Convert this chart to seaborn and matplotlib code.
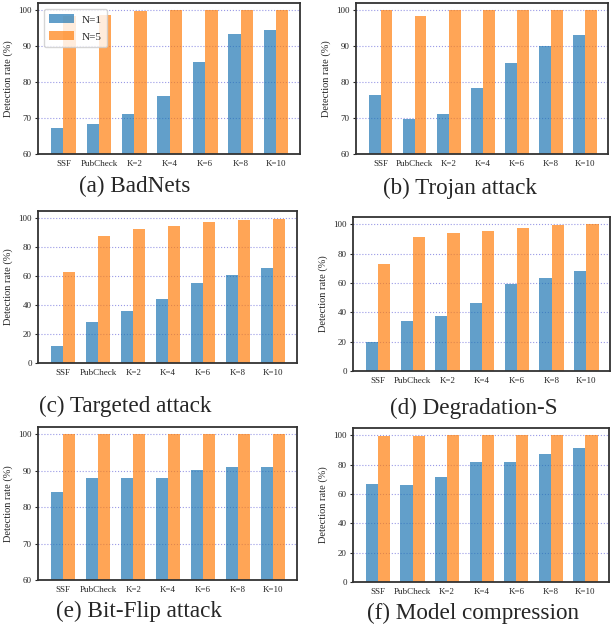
import numpy as np
import pandas as pd
import matplotlib
matplotlib.use("Agg")
import matplotlib.pyplot as plt
import seaborn as sns

methods = ["SSF", "PubCheck", "K=2", "K=4", "K=6", "K=8", "K=10"]
series = ["N=1", "N=5"]

badnets_n1 = [67.2, 68.3, 71.0, 76.0, 85.4, 93.1, 94.2]
badnets_n5 = [98.1, 98.6, 99.5, 99.8, 99.8, 99.8, 99.8]
trojan_n1 = [76.2, 69.6, 71.0, 78.3, 85.2, 89.9, 92.9]
trojan_n5 = [100, 98.1, 100, 100, 100, 100, 100]
targeted_n1 = [11.5, 28.0, 35.6, 43.9, 55.6, 61.1, 65.3]
targeted_n5 = [63.2, 87.4, 92.9, 94.9, 97.7, 99.1, 99.8]
degrad_n1 = [20.1, 33.8, 37.2, 46.1, 59.1, 63.2, 68.0]
degrad_n5 = [72.8, 91.3, 94.1, 95.4, 97.5, 99.5, 100]
bitflip_n1 = [84.1, 88.0, 88.0, 88.0, 90.2, 91.0, 91.0]
bitflip_n5 = [100, 100, 100, 100, 100, 100, 100]
compress_n1 = [66.9, 66.2, 71.7, 81.9, 81.9, 87.3, 91.4]
compress_n5 = [99.5, 99.5, 100, 100, 100, 100, 100]

captions = ["(a) BadNets", "(b) Trojan attack", "(c) Targeted attack",
            "(d) Degradation-S", "(e) Bit-Flip attack", "(f) Model compression"]
ylabel = "Detection rate (%)"

panels = [
    (badnets_n1, badnets_n5, (60, 101.8), [60, 70, 80, 90, 100]),
    (trojan_n1, trojan_n5, (60, 101.8), [60, 70, 80, 90, 100]),
    (targeted_n1, targeted_n5, (0, 105), [0, 20, 40, 60, 80, 100]),
    (degrad_n1, degrad_n5, (0, 105), [0, 20, 40, 60, 80, 100]),
    (bitflip_n1, bitflip_n5, (60, 102), [60, 70, 80, 90, 100]),
    (compress_n1, compress_n5, (0, 105), [0, 20, 40, 60, 80, 100]),
]

sns.set_style("white")
plt.rcParams["font.family"] = ["Liberation Serif", "DejaVu Serif"]

W, H = 611, 634
fig = plt.figure(figsize=(W / 100, H / 100), dpi=100)

# pixel boxes: left, right, top, bottom
boxes = [(38, 300, 3, 154), (356, 608, 3, 154),
         (38, 297, 211, 363), (353, 610, 217, 371),
         (38, 297, 427, 580), (353, 609, 428, 582)]
cap_pos = [(135, 186), (460, 188), (125, 406), (474, 408), (139, 611), (473, 613)]

colors = ["#1f77b4", "#ff7f0e"]

for i, ((n1, n5, ylim, yt), (l, r, t, b)) in enumerate(zip(panels, boxes)):
    ax = fig.add_axes([l / W, 1 - b / H, (r - l) / W, (b - t) / H])
    df = pd.DataFrame({
        "method": methods * 2,
        "series": [series[0]] * len(methods) + [series[1]] * len(methods),
        "value": list(n1) + list(n5),
    })
    sns.barplot(data=df, x="method", y="value", hue="series", order=methods,
                hue_order=series, palette=colors, alpha=0.7, width=0.7,
                ax=ax, legend=(i == 0), saturation=1, linewidth=0,
                edgecolor="none")
    ax.set_ylim(*ylim)
    ax.set_yticks(yt)
    ax.set_xlim(-0.72, 6.68)
    ax.set_xlabel("")
    ax.set_ylabel(ylabel, fontsize=7.5)
    ax.tick_params(axis="y", labelsize=6.5, length=2.5, width=0.8, pad=2, left=True)
    ax.tick_params(axis="x", labelsize=6.5, length=0, pad=4)
    ax.set_axisbelow(True)
    ax.yaxis.grid(True, linestyle=":", color="#8080e0", linewidth=0.8, alpha=0.8)
    for s in ax.spines.values():
        s.set_color("#333333")
        s.set_linewidth(1.3)
    if i == 0:
        leg = ax.legend(loc="upper left", fontsize=8, handlelength=2.2,
                        handleheight=0.9, frameon=True, borderpad=0.5,
                        labelspacing=0.6, handletextpad=0.7)
        leg.get_frame().set_edgecolor("#cccccc")
    cx, cy = cap_pos[i]
    fig.text(cx / W, 1 - cy / H, captions[i], ha="center", va="center", fontsize=16.7)

fig.savefig("out.png", dpi=100)
